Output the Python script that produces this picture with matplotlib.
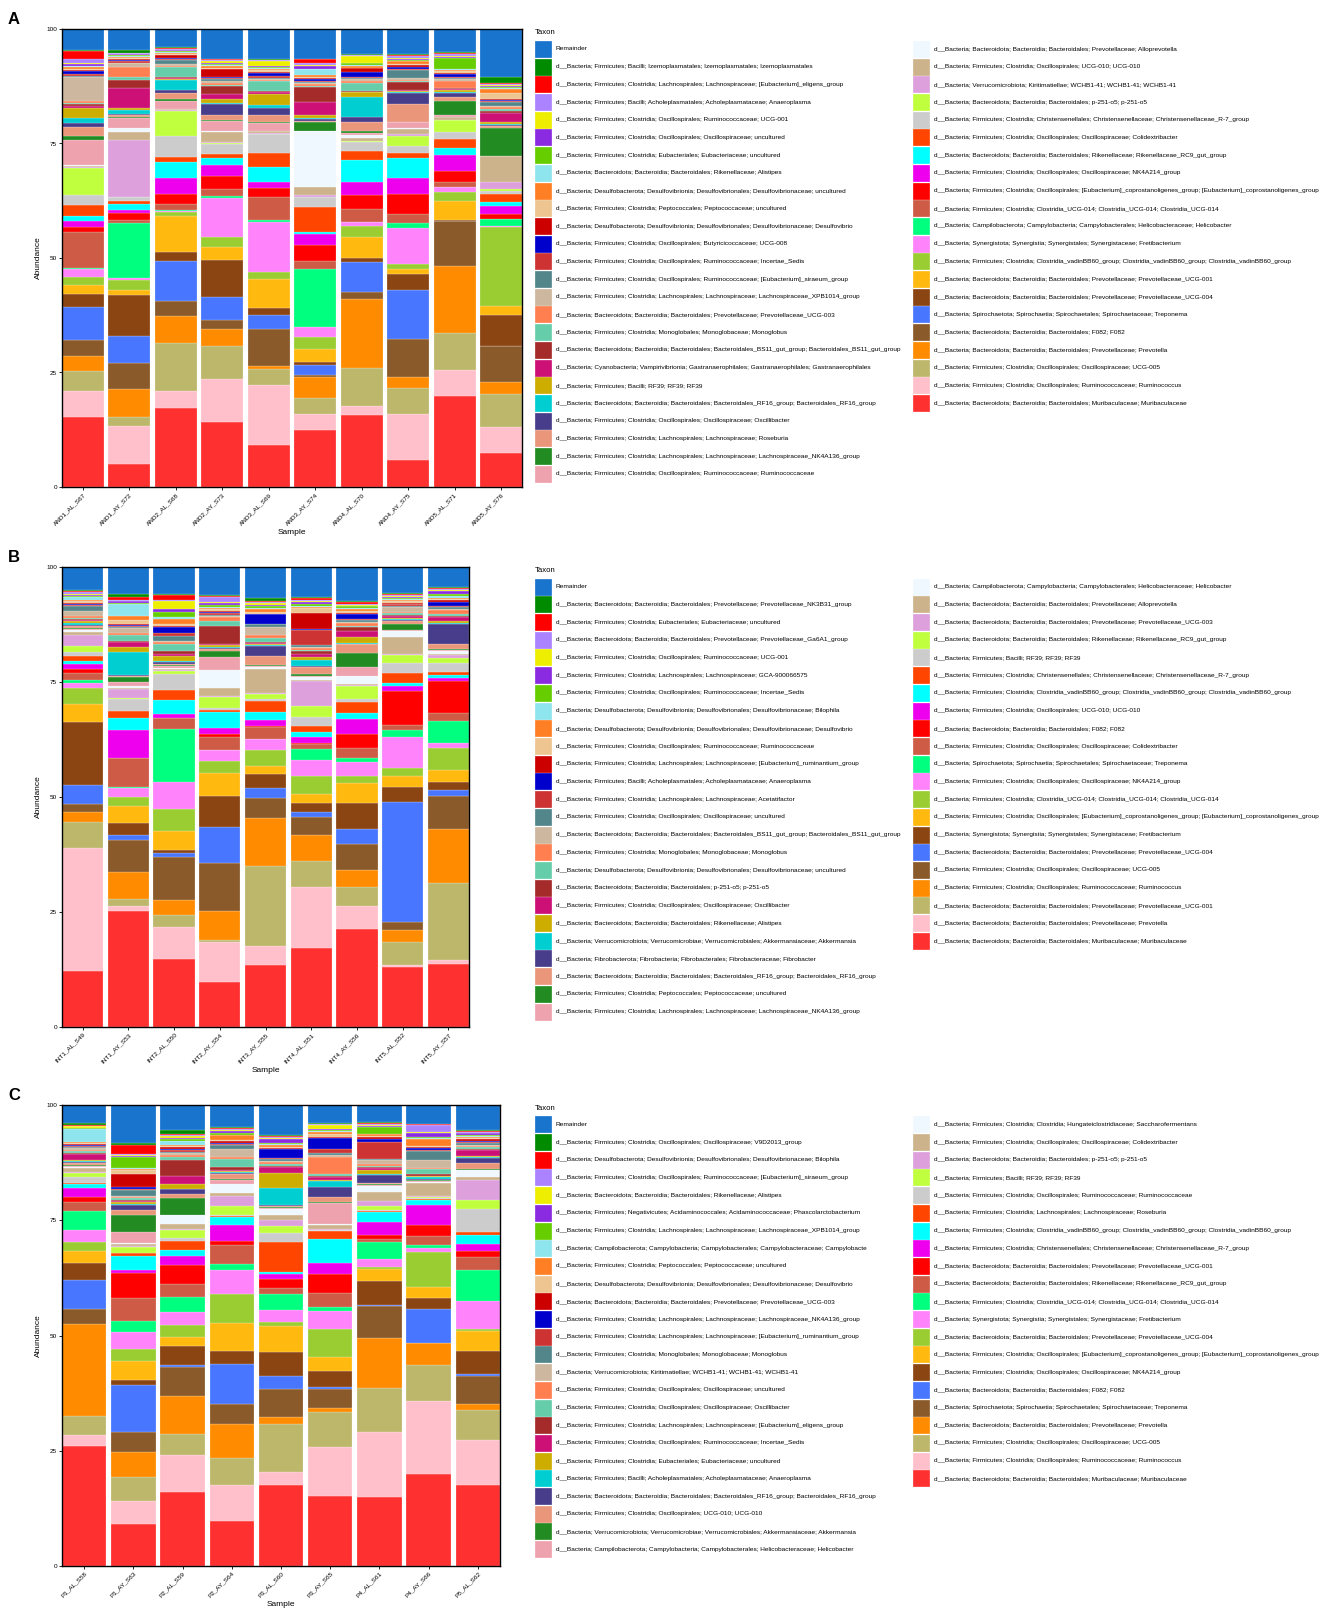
import numpy as np
import matplotlib
matplotlib.use("Agg")
import matplotlib.pyplot as plt
from matplotlib.patches import Rectangle

plt.rcParams["font.family"] = ["Liberation Sans", "DejaVu Sans"]

W, H = 1325, 1617

# colours by legend position (shared by the three panels)
PALETTE = [
    "#1874CD", "#008B00", "#FF0000", "#AB82FF", "#EEEE00", "#8A2BE2", "#66CD00",
    "#8EE5EE", "#FF7F24", "#EEC591", "#CD0000", "#0000CD", "#CD3333", "#53868B",
    "#CDB79E", "#FF7F50", "#66CDAA", "#A52A2A", "#CD1076", "#CDAD00", "#00CED1",
    "#483D8B", "#E9967A", "#228B22", "#EEA2AD",
    "#F0F8FF", "#CDB38B", "#DDA0DD", "#C0FF3E", "#CCCCCC", "#FF4500", "#00FFFF",
    "#EE00EE", "#FF0000", "#CD5B45", "#00FF7F", "#FF83FA", "#9ACD32", "#FFB90F",
    "#8B4513", "#4876FF", "#8B5A2B", "#FF8C00", "#BDB76B", "#FFC0CB", "#FF3030",
]

TAXA_A = [
    "Remainder",
    "d__Bacteria; Firmicutes; Bacilli; Izemoplasmatales; Izemoplasmatales; Izemoplasmatales",
    "d__Bacteria; Firmicutes; Clostridia; Lachnospirales; Lachnospiraceae; [Eubacterium]_eligens_group",
    "d__Bacteria; Firmicutes; Bacilli; Acholeplasmatales; Acholeplasmataceae; Anaeroplasma",
    "d__Bacteria; Firmicutes; Clostridia; Oscillospirales; Ruminococcaceae; UCG-001",
    "d__Bacteria; Firmicutes; Clostridia; Oscillospirales; Oscillospiraceae; uncultured",
    "d__Bacteria; Firmicutes; Clostridia; Eubacteriales; Eubacteriaceae; uncultured",
    "d__Bacteria; Bacteroidota; Bacteroidia; Bacteroidales; Rikenellaceae; Alistipes",
    "d__Bacteria; Desulfobacterota; Desulfovibrionia; Desulfovibrionales; Desulfovibrionaceae; uncultured",
    "d__Bacteria; Firmicutes; Clostridia; Peptococcales; Peptococcaceae; uncultured",
    "d__Bacteria; Desulfobacterota; Desulfovibrionia; Desulfovibrionales; Desulfovibrionaceae; Desulfovibrio",
    "d__Bacteria; Firmicutes; Clostridia; Oscillospirales; Butyricicoccaceae; UCG-008",
    "d__Bacteria; Firmicutes; Clostridia; Oscillospirales; Ruminococcaceae; Incertae_Sedis",
    "d__Bacteria; Firmicutes; Clostridia; Oscillospirales; Ruminococcaceae; [Eubacterium]_siraeum_group",
    "d__Bacteria; Firmicutes; Clostridia; Lachnospirales; Lachnospiraceae; Lachnospiraceae_XPB1014_group",
    "d__Bacteria; Bacteroidota; Bacteroidia; Bacteroidales; Prevotellaceae; Prevotellaceae_UCG-003",
    "d__Bacteria; Firmicutes; Clostridia; Monoglobales; Monoglobaceae; Monoglobus",
    "d__Bacteria; Bacteroidota; Bacteroidia; Bacteroidales; Bacteroidales_BS11_gut_group; Bacteroidales_BS11_gut_group",
    "d__Bacteria; Cyanobacteria; Vampirivibrionia; Gastranaerophilales; Gastranaerophilales; Gastranaerophilales",
    "d__Bacteria; Firmicutes; Bacilli; RF39; RF39; RF39",
    "d__Bacteria; Bacteroidota; Bacteroidia; Bacteroidales; Bacteroidales_RF16_group; Bacteroidales_RF16_group",
    "d__Bacteria; Firmicutes; Clostridia; Oscillospirales; Oscillospiraceae; Oscillibacter",
    "d__Bacteria; Firmicutes; Clostridia; Lachnospirales; Lachnospiraceae; Roseburia",
    "d__Bacteria; Firmicutes; Clostridia; Lachnospirales; Lachnospiraceae; Lachnospiraceae_NK4A136_group",
    "d__Bacteria; Firmicutes; Clostridia; Oscillospirales; Ruminococcaceae; Ruminococcaceae",
    "d__Bacteria; Bacteroidota; Bacteroidia; Bacteroidales; Prevotellaceae; Alloprevotella",
    "d__Bacteria; Firmicutes; Clostridia; Oscillospirales; UCG-010; UCG-010",
    "d__Bacteria; Verrucomicrobiota; Kiritimatiellae; WCHB1-41; WCHB1-41; WCHB1-41",
    "d__Bacteria; Bacteroidota; Bacteroidia; Bacteroidales; p-251-o5; p-251-o5",
    "d__Bacteria; Firmicutes; Clostridia; Christensenellales; Christensenellaceae; Christensenellaceae_R-7_group",
    "d__Bacteria; Firmicutes; Clostridia; Oscillospirales; Oscillospiraceae; Colidextribacter",
    "d__Bacteria; Bacteroidota; Bacteroidia; Bacteroidales; Rikenellaceae; Rikenellaceae_RC9_gut_group",
    "d__Bacteria; Firmicutes; Clostridia; Oscillospirales; Oscillospiraceae; NK4A214_group",
    "d__Bacteria; Firmicutes; Clostridia; Oscillospirales; [Eubacterium]_coprostanoligenes_group; [Eubacterium]_coprostanoligenes_group",
    "d__Bacteria; Firmicutes; Clostridia; Clostridia_UCG-014; Clostridia_UCG-014; Clostridia_UCG-014",
    "d__Bacteria; Campilobacterota; Campylobacteria; Campylobacterales; Helicobacteraceae; Helicobacter",
    "d__Bacteria; Synergistota; Synergistia; Synergistales; Synergistaceae; Fretibacterium",
    "d__Bacteria; Firmicutes; Clostridia; Clostridia_vadinBB60_group; Clostridia_vadinBB60_group; Clostridia_vadinBB60_group",
    "d__Bacteria; Bacteroidota; Bacteroidia; Bacteroidales; Prevotellaceae; Prevotellaceae_UCG-001",
    "d__Bacteria; Bacteroidota; Bacteroidia; Bacteroidales; Prevotellaceae; Prevotellaceae_UCG-004",
    "d__Bacteria; Spirochaetota; Spirochaetia; Spirochaetales; Spirochaetaceae; Treponema",
    "d__Bacteria; Bacteroidota; Bacteroidia; Bacteroidales; F082; F082",
    "d__Bacteria; Bacteroidota; Bacteroidia; Bacteroidales; Prevotellaceae; Prevotella",
    "d__Bacteria; Firmicutes; Clostridia; Oscillospirales; Oscillospiraceae; UCG-005",
    "d__Bacteria; Firmicutes; Clostridia; Oscillospirales; Ruminococcaceae; Ruminococcus",
    "d__Bacteria; Bacteroidota; Bacteroidia; Bacteroidales; Muribaculaceae; Muribaculaceae",
]

TAXA_B = [
    "Remainder",
    "d__Bacteria; Bacteroidota; Bacteroidia; Bacteroidales; Prevotellaceae; Prevotellaceae_NK3B31_group",
    "d__Bacteria; Firmicutes; Clostridia; Eubacteriales; Eubacteriaceae; uncultured",
    "d__Bacteria; Bacteroidota; Bacteroidia; Bacteroidales; Prevotellaceae; Prevotellaceae_Ga6A1_group",
    "d__Bacteria; Firmicutes; Clostridia; Oscillospirales; Ruminococcaceae; UCG-001",
    "d__Bacteria; Firmicutes; Clostridia; Lachnospirales; Lachnospiraceae; GCA-900066575",
    "d__Bacteria; Firmicutes; Clostridia; Oscillospirales; Ruminococcaceae; Incertae_Sedis",
    "d__Bacteria; Desulfobacterota; Desulfovibrionia; Desulfovibrionales; Desulfovibrionaceae; Bilophila",
    "d__Bacteria; Desulfobacterota; Desulfovibrionia; Desulfovibrionales; Desulfovibrionaceae; Desulfovibrio",
    "d__Bacteria; Firmicutes; Clostridia; Oscillospirales; Ruminococcaceae; Ruminococcaceae",
    "d__Bacteria; Firmicutes; Clostridia; Lachnospirales; Lachnospiraceae; [Eubacterium]_ruminantium_group",
    "d__Bacteria; Firmicutes; Bacilli; Acholeplasmatales; Acholeplasmataceae; Anaeroplasma",
    "d__Bacteria; Firmicutes; Clostridia; Lachnospirales; Lachnospiraceae; Acetatifactor",
    "d__Bacteria; Firmicutes; Clostridia; Oscillospirales; Oscillospiraceae; uncultured",
    "d__Bacteria; Bacteroidota; Bacteroidia; Bacteroidales; Bacteroidales_BS11_gut_group; Bacteroidales_BS11_gut_group",
    "d__Bacteria; Firmicutes; Clostridia; Monoglobales; Monoglobaceae; Monoglobus",
    "d__Bacteria; Desulfobacterota; Desulfovibrionia; Desulfovibrionales; Desulfovibrionaceae; uncultured",
    "d__Bacteria; Bacteroidota; Bacteroidia; Bacteroidales; p-251-o5; p-251-o5",
    "d__Bacteria; Firmicutes; Clostridia; Oscillospirales; Oscillospiraceae; Oscillibacter",
    "d__Bacteria; Bacteroidota; Bacteroidia; Bacteroidales; Rikenellaceae; Alistipes",
    "d__Bacteria; Verrucomicrobiota; Verrucomicrobiae; Verrucomicrobiales; Akkermansiaceae; Akkermansia",
    "d__Bacteria; Fibrobacterota; Fibrobacteria; Fibrobacterales; Fibrobacteraceae; Fibrobacter",
    "d__Bacteria; Bacteroidota; Bacteroidia; Bacteroidales; Bacteroidales_RF16_group; Bacteroidales_RF16_group",
    "d__Bacteria; Firmicutes; Clostridia; Peptococcales; Peptococcaceae; uncultured",
    "d__Bacteria; Firmicutes; Clostridia; Lachnospirales; Lachnospiraceae; Lachnospiraceae_NK4A136_group",
    "d__Bacteria; Campilobacterota; Campylobacteria; Campylobacterales; Helicobacteraceae; Helicobacter",
    "d__Bacteria; Bacteroidota; Bacteroidia; Bacteroidales; Prevotellaceae; Alloprevotella",
    "d__Bacteria; Bacteroidota; Bacteroidia; Bacteroidales; Prevotellaceae; Prevotellaceae_UCG-003",
    "d__Bacteria; Bacteroidota; Bacteroidia; Bacteroidales; Rikenellaceae; Rikenellaceae_RC9_gut_group",
    "d__Bacteria; Firmicutes; Bacilli; RF39; RF39; RF39",
    "d__Bacteria; Firmicutes; Clostridia; Christensenellales; Christensenellaceae; Christensenellaceae_R-7_group",
    "d__Bacteria; Firmicutes; Clostridia; Clostridia_vadinBB60_group; Clostridia_vadinBB60_group; Clostridia_vadinBB60_group",
    "d__Bacteria; Firmicutes; Clostridia; Oscillospirales; UCG-010; UCG-010",
    "d__Bacteria; Bacteroidota; Bacteroidia; Bacteroidales; F082; F082",
    "d__Bacteria; Firmicutes; Clostridia; Oscillospirales; Oscillospiraceae; Colidextribacter",
    "d__Bacteria; Spirochaetota; Spirochaetia; Spirochaetales; Spirochaetaceae; Treponema",
    "d__Bacteria; Firmicutes; Clostridia; Oscillospirales; Oscillospiraceae; NK4A214_group",
    "d__Bacteria; Firmicutes; Clostridia; Clostridia_UCG-014; Clostridia_UCG-014; Clostridia_UCG-014",
    "d__Bacteria; Firmicutes; Clostridia; Oscillospirales; [Eubacterium]_coprostanoligenes_group; [Eubacterium]_coprostanoligenes_group",
    "d__Bacteria; Synergistota; Synergistia; Synergistales; Synergistaceae; Fretibacterium",
    "d__Bacteria; Bacteroidota; Bacteroidia; Bacteroidales; Prevotellaceae; Prevotellaceae_UCG-004",
    "d__Bacteria; Firmicutes; Clostridia; Oscillospirales; Oscillospiraceae; UCG-005",
    "d__Bacteria; Firmicutes; Clostridia; Oscillospirales; Ruminococcaceae; Ruminococcus",
    "d__Bacteria; Bacteroidota; Bacteroidia; Bacteroidales; Prevotellaceae; Prevotellaceae_UCG-001",
    "d__Bacteria; Bacteroidota; Bacteroidia; Bacteroidales; Prevotellaceae; Prevotella",
    "d__Bacteria; Bacteroidota; Bacteroidia; Bacteroidales; Muribaculaceae; Muribaculaceae",
]

TAXA_C = [
    "Remainder",
    "d__Bacteria; Firmicutes; Clostridia; Oscillospirales; Oscillospiraceae; V9D2013_group",
    "d__Bacteria; Desulfobacterota; Desulfovibrionia; Desulfovibrionales; Desulfovibrionaceae; Bilophila",
    "d__Bacteria; Firmicutes; Clostridia; Oscillospirales; Ruminococcaceae; [Eubacterium]_siraeum_group",
    "d__Bacteria; Bacteroidota; Bacteroidia; Bacteroidales; Rikenellaceae; Alistipes",
    "d__Bacteria; Firmicutes; Negativicutes; Acidaminococcales; Acidaminococcaceae; Phascolarctobacterium",
    "d__Bacteria; Firmicutes; Clostridia; Lachnospirales; Lachnospiraceae; Lachnospiraceae_XPB1014_group",
    "d__Bacteria; Campilobacterota; Campylobacteria; Campylobacterales; Campylobacteraceae; Campylobacte",
    "d__Bacteria; Firmicutes; Clostridia; Peptococcales; Peptococcaceae; uncultured",
    "d__Bacteria; Desulfobacterota; Desulfovibrionia; Desulfovibrionales; Desulfovibrionaceae; Desulfovibrio",
    "d__Bacteria; Bacteroidota; Bacteroidia; Bacteroidales; Prevotellaceae; Prevotellaceae_UCG-003",
    "d__Bacteria; Firmicutes; Clostridia; Lachnospirales; Lachnospiraceae; Lachnospiraceae_NK4A136_group",
    "d__Bacteria; Firmicutes; Clostridia; Lachnospirales; Lachnospiraceae; [Eubacterium]_ruminantium_group",
    "d__Bacteria; Firmicutes; Clostridia; Monoglobales; Monoglobaceae; Monoglobus",
    "d__Bacteria; Verrucomicrobiota; Kiritimatiellae; WCHB1-41; WCHB1-41; WCHB1-41",
    "d__Bacteria; Firmicutes; Clostridia; Oscillospirales; Oscillospiraceae; uncultured",
    "d__Bacteria; Firmicutes; Clostridia; Oscillospirales; Oscillospiraceae; Oscillibacter",
    "d__Bacteria; Firmicutes; Clostridia; Lachnospirales; Lachnospiraceae; [Eubacterium]_eligens_group",
    "d__Bacteria; Firmicutes; Clostridia; Oscillospirales; Ruminococcaceae; Incertae_Sedis",
    "d__Bacteria; Firmicutes; Clostridia; Eubacteriales; Eubacteriaceae; uncultured",
    "d__Bacteria; Firmicutes; Bacilli; Acholeplasmatales; Acholeplasmataceae; Anaeroplasma",
    "d__Bacteria; Bacteroidota; Bacteroidia; Bacteroidales; Bacteroidales_RF16_group; Bacteroidales_RF16_group",
    "d__Bacteria; Firmicutes; Clostridia; Oscillospirales; UCG-010; UCG-010",
    "d__Bacteria; Verrucomicrobiota; Verrucomicrobiae; Verrucomicrobiales; Akkermansiaceae; Akkermansia",
    "d__Bacteria; Campilobacterota; Campylobacteria; Campylobacterales; Helicobacteraceae; Helicobacter",
    "d__Bacteria; Firmicutes; Clostridia; Clostridia; Hungateiclostridiaceae; Saccharofermentans",
    "d__Bacteria; Firmicutes; Clostridia; Oscillospirales; Oscillospiraceae; Colidextribacter",
    "d__Bacteria; Bacteroidota; Bacteroidia; Bacteroidales; p-251-o5; p-251-o5",
    "d__Bacteria; Firmicutes; Bacilli; RF39; RF39; RF39",
    "d__Bacteria; Firmicutes; Clostridia; Oscillospirales; Ruminococcaceae; Ruminococcaceae",
    "d__Bacteria; Firmicutes; Clostridia; Lachnospirales; Lachnospiraceae; Roseburia",
    "d__Bacteria; Firmicutes; Clostridia; Clostridia_vadinBB60_group; Clostridia_vadinBB60_group; Clostridia_vadinBB60_group",
    "d__Bacteria; Firmicutes; Clostridia; Christensenellales; Christensenellaceae; Christensenellaceae_R-7_group",
    "d__Bacteria; Bacteroidota; Bacteroidia; Bacteroidales; Prevotellaceae; Prevotellaceae_UCG-001",
    "d__Bacteria; Bacteroidota; Bacteroidia; Bacteroidales; Rikenellaceae; Rikenellaceae_RC9_gut_group",
    "d__Bacteria; Firmicutes; Clostridia; Clostridia_UCG-014; Clostridia_UCG-014; Clostridia_UCG-014",
    "d__Bacteria; Synergistota; Synergistia; Synergistales; Synergistaceae; Fretibacterium",
    "d__Bacteria; Bacteroidota; Bacteroidia; Bacteroidales; Prevotellaceae; Prevotellaceae_UCG-004",
    "d__Bacteria; Firmicutes; Clostridia; Oscillospirales; [Eubacterium]_coprostanoligenes_group; [Eubacterium]_coprostanoligenes_group",
    "d__Bacteria; Firmicutes; Clostridia; Oscillospirales; Oscillospiraceae; NK4A214_group",
    "d__Bacteria; Bacteroidota; Bacteroidia; Bacteroidales; F082; F082",
    "d__Bacteria; Spirochaetota; Spirochaetia; Spirochaetales; Spirochaetaceae; Treponema",
    "d__Bacteria; Bacteroidota; Bacteroidia; Bacteroidales; Prevotellaceae; Prevotella",
    "d__Bacteria; Firmicutes; Clostridia; Oscillospirales; Oscillospiraceae; UCG-005",
    "d__Bacteria; Firmicutes; Clostridia; Oscillospirales; Ruminococcaceae; Ruminococcus",
    "d__Bacteria; Bacteroidota; Bacteroidia; Bacteroidales; Muribaculaceae; Muribaculaceae",
]

# Abundances per sample, listed from the bottom of the stack (last taxon) up to Remainder
SAMPLES_A = ["AND1_AL_S67", "AND1_AY_S72", "AND2_AL_S68", "AND2_AY_S73", "AND3_AL_S69",
             "AND3_AY_S74", "AND4_AL_S70", "AND4_AY_S75", "AND5_AL_S71", "AND5_AY_S76"]
A_S67 = [15.6, 5.7, 4.3, 3.4, 3.5, 7.3, 2.9, 2.1, 1.8, 1.6, 0.3, 7.9, 1.2, 1.2, 1.2, 2.4, 2.2, 6.1, 0.2, 0.2, 0.1, 5.7, 0.9,
         1.8, 1.0, 1.2, 2.2, 0.3, 0.4, 0.4, 0.4, 5.2, 0.4, 0.4, 0.5, 0.3, 0.3, 0.3, 0.2, 0.2, 0.4, 0.1, 0.9, 1.8, 0.2, 4.7]
A_S72 = [5.1, 8.3, 2.0, 6.3, 5.7, 6.0, 8.9, 1.1, 2.3, 0.4, 12.2, 0.6, 1.5, 0.7, 1.2, 0.7, 0.9, 0.1, 12.5, 1.7, 0.9, 2.3, 0.2,
         0.4, 0.2, 0.9, 0.5, 4.4, 1.8, 0.6, 2.3, 0.7, 0.2, 0.3, 0.2, 0.2, 0.3, 0.3, 0.2, 0.1, 0.2, 0.1, 0.1, 0.2, 0.5, 4.7]
A_S68 = [17.8, 3.6, 10.9, 6.0, 3.4, 9.0, 2.0, 7.9, 1.1, 0.2, 0.1, 1.5, 2.2, 3.5, 3.6, 1.2, 4.6, 5.6, 0.2, 0.3, 0.0, 1.8, 0.5,
         1.3, 0.7, 2.2, 0.3, 0.2, 0.2, 2.2, 0.3, 0.3, 0.9, 0.2, 0.4, 0.5, 0.3, 0.2, 0.2, 0.2, 0.2, 0.2, 0.2, 0.2, 0.1, 4.1]
A_S73 = [14.3, 9.5, 7.1, 3.9, 2.0, 4.9, 8.2, 2.9, 2.1, 8.6, 0.4, 1.7, 2.7, 2.4, 1.7, 0.9, 2.2, 0.2, 0.2, 2.2, 0.1, 2.2, 0.2,
         1.1, 2.5, 0.3, 0.9, 0.9, 1.8, 0.3, 0.5, 0.4, 0.3, 0.3, 0.3, 1.8, 0.2, 0.3, 0.2, 0.2, 0.3, 0.4, 0.2, 0.2, 0.2, 6.5]
A_S69 = [9.2, 13.3, 3.6, 0.7, 8.2, 2.9, 1.7, 6.3, 1.6, 11.1, 0.4, 5.1, 2.0, 1.3, 3.4, 3.1, 4.0, 0.2, 0.2, 0.3, 0.0, 1.8, 0.2,
         1.5, 1.7, 0.5, 2.5, 0.4, 0.2, 2.2, 0.3, 0.3, 0.2, 0.4, 0.6, 0.4, 0.3, 0.2, 0.3, 0.2, 0.2, 1.2, 0.1, 0.1, 0.1, 6.7]
A_S74 = [12.5, 3.4, 3.5, 4.6, 0.5, 2.2, 0.6, 2.9, 2.5, 2.2, 12.7, 1.7, 3.6, 2.3, 0.4, 5.5, 2.2, 0.1, 0.3, 1.8, 12.2, 0.1, 2.0,
         0.2, 0.3, 0.3, 0.7, 2.7, 3.3, 0.3, 0.3, 0.3, 0.3, 0.2, 0.3, 0.3, 0.3, 0.3, 1.3, 0.1, 0.7, 0.1, 0.4, 0.9, 0.1, 6.5]
A_S70 = [15.8, 2.0, 8.4, 15.3, 1.6, 6.6, 0.7, 4.7, 2.4, 0.9, 0.1, 2.9, 2.9, 2.9, 4.9, 2.0, 2.0, 0.1, 0.2, 0.5, 0.7, 0.4, 0.4,
         2.0, 1.3, 4.4, 0.9, 0.2, 0.2, 1.8, 0.3, 0.4, 0.3, 0.3, 1.1, 0.7, 0.2, 0.3, 0.2, 0.4, 0.2, 1.5, 0.1, 0.1, 0.1, 5.6]
A_S75 = [6.0, 10.0, 5.7, 2.4, 8.2, 10.8, 3.6, 0.9, 1.1, 8.0, 1.1, 2.0, 4.4, 3.3, 4.4, 1.1, 1.5, 2.3, 0.4, 1.2, 0.1, 1.3, 0.1,
         3.9, 2.3, 0.4, 0.2, 0.2, 1.6, 0.4, 0.2, 0.3, 1.8, 0.3, 0.3, 0.5, 0.3, 0.5, 0.2, 0.2, 0.2, 0.2, 0.4, 0.2, 0.2, 5.5]
A_S71 = [20.2, 5.7, 8.2, 14.9, 10.0, 0.0, 0.2, 4.2, 2.2, 1.0, 0.1, 1.1, 2.4, 3.5, 1.5, 2.1, 1.5, 2.6, 0.2, 0.5, 0.1, 0.3, 3.2,
         0.8, 0.9, 0.4, 0.3, 0.2, 0.2, 0.2, 1.5, 0.4, 0.2, 0.3, 0.5, 0.4, 0.3, 0.3, 0.2, 2.5, 0.2, 0.2, 0.5, 0.2, 0.1, 5.2]
A_S76 = [7.6, 5.7, 7.3, 2.8, 8.0, 0.0, 6.7, 2.0, 17.7, 0.1, 1.5, 0.2, 1.1, 1.8, 0.7, 1.8, 0.7, 0.5, 1.5, 5.7, 0.1, 0.1, 6.2,
         0.3, 0.2, 0.3, 0.5, 2.0, 0.4, 0.4, 0.4, 0.4, 0.7, 0.3, 0.3, 0.2, 1.2, 1.0, 0.3, 0.1, 0.3, 0.1, 0.3, 0.1, 1.5, 10.6]

SAMPLES_B = ["INT1_AL_S49", "INT1_AY_S53", "INT2_AL_S50", "INT2_AY_S54", "INT3_AY_S55",
             "INT4_AL_S51", "INT4_AY_S56", "INT5_AL_S52", "INT5_AY_S57"]
B_S49 = [12.4, 27.1, 5.8, 2.2, 1.8, 4.2, 13.9, 3.8, 3.5, 1.3, 0.5, 1.6, 0.9, 1.1, 0.7, 1.1, 0.9, 1.3, 2.3, 0.7, 0.6, 0.2, 0.2,
         0.3, 0.2, 0.5, 0.4, 0.2, 0.3, 0.3, 0.4, 1.1, 1.1, 0.3, 0.2, 0.2, 0.3, 0.3, 0.7, 0.3, 0.2, 0.2, 0.4, 0.2, 0.2, 5.1]
B_S53 = [25.3, 1.1, 1.4, 5.9, 7.0, 1.1, 2.5, 3.7, 2.1, 2.0, 0.1, 6.3, 0.1, 6.0, 2.7, 1.4, 2.7, 0.2, 2.0, 0.2, 0.5, 0.7, 1.1,
         0.3, 0.1, 5.2, 0.9, 1.1, 0.2, 1.4, 0.4, 1.1, 0.3, 0.2, 0.2, 0.2, 0.9, 0.8, 2.7, 0.2, 0.3, 0.2, 0.2, 0.6, 0.6, 5.9]
B_S50 = [14.8, 7.1, 2.5, 3.4, 9.4, 0.9, 0.7, 4.1, 4.7, 5.9, 11.7, 2.3, 0.1, 0.9, 3.1, 2.2, 3.4, 0.7, 0.2, 0.2, 0.3, 0.3, 0.2,
         0.3, 0.4, 0.3, 1.1, 0.4, 0.7, 1.4, 0.4, 0.4, 1.1, 0.6, 1.3, 0.3, 0.4, 1.1, 0.3, 1.1, 0.7, 1.8, 0.2, 1.1, 0.3, 5.8]
B_S54 = [9.9, 9.0, 0.4, 6.5, 10.6, 8.0, 6.9, 5.1, 2.7, 2.4, 0.1, 3.0, 0.5, 1.3, 3.6, 0.6, 0.3, 2.5, 0.2, 1.7, 4.1, 2.9, 1.4,
         0.4, 0.2, 0.2, 0.4, 0.3, 3.9, 1.3, 0.7, 0.3, 0.3, 0.3, 0.3, 0.3, 0.3, 0.3, 0.3, 0.3, 0.5, 0.2, 1.1, 0.3, 0.2, 6.2]
B_S55 = [13.7, 4.0, 17.7, 10.5, 4.3, 2.2, 3.1, 1.8, 3.5, 2.3, 0.1, 2.5, 0.4, 1.2, 1.8, 2.5, 0.4, 1.0, 0.2, 5.3, 0.4, 0.2, 0.4,
         1.8, 2.2, 0.3, 0.2, 0.3, 0.2, 0.9, 0.6, 1.8, 0.5, 0.2, 2.0, 0.2, 0.3, 0.7, 0.2, 0.4, 0.3, 0.5, 0.2, 0.2, 0.5, 6.9]
B_S51 = [17.4, 13.3, 5.8, 5.6, 4.0, 1.2, 2.0, 1.8, 4.0, 3.6, 2.3, 1.3, 0.2, 1.3, 1.0, 1.4, 2.0, 2.3, 5.6, 0.2, 0.6, 0.2, 0.4,
         1.7, 0.2, 1.2, 0.7, 0.7, 0.6, 0.3, 0.3, 0.4, 0.3, 3.3, 0.2, 3.6, 1.1, 0.3, 0.2, 0.3, 0.5, 0.2, 0.2, 0.4, 0.2, 6.7]
B_S56 = [21.9, 5.1, 4.2, 3.8, 5.8, 3.3, 5.9, 4.4, 1.6, 3.1, 0.9, 2.3, 3.1, 3.3, 1.4, 2.5, 0.7, 2.9, 0.2, 0.2, 1.8, 2.0, 3.0,
         2.0, 0.2, 0.2, 1.3, 1.4, 0.7, 0.3, 0.7, 0.3, 0.3, 0.3, 1.1, 0.3, 0.3, 0.6, 0.2, 0.3, 0.2, 0.2, 0.2, 0.4, 0.2, 7.6]
B_S52 = [13.3, 0.4, 5.1, 2.7, 1.8, 26.6, 3.3, 2.3, 1.8, 7.0, 1.5, 1.0, 7.6, 1.1, 0.7, 2.2, 2.3, 1.7, 0.2, 3.9, 1.2, 0.2, 1.4,
         0.7, 0.2, 0.2, 0.2, 0.4, 0.3, 0.3, 0.3, 1.1, 0.3, 0.3, 0.2, 0.2, 0.3, 0.3, 0.2, 0.2, 0.2, 0.2, 0.3, 0.2, 0.2, 5.8]
B_S57 = [14.0, 0.9, 17.0, 11.9, 7.2, 1.4, 1.8, 2.7, 4.8, 1.1, 4.9, 1.7, 7.1, 0.7, 0.7, 0.5, 2.0, 1.1, 0.7, 0.3, 0.6, 0.3, 0.2,
         1.1, 4.5, 0.2, 0.3, 0.9, 0.3, 0.3, 0.9, 0.3, 0.4, 0.3, 0.9, 0.3, 0.3, 0.3, 0.3, 0.5, 0.6, 0.3, 0.2, 0.2, 0.2, 4.5]

SAMPLES_C = ["P1_AL_S58", "P1_AY_S63", "P2_AL_S59", "P2_AY_S64", "P3_AL_S60",
             "P3_AY_S65", "P4_AL_S61", "P4_AY_S66", "P5_AL_S62"]
C_S58 = [26.6, 2.5, 4.1, 20.4, 3.4, 6.4, 3.7, 2.7, 2.1, 2.5, 4.4, 1.8, 1.1, 2.1, 0.9, 0.2, 1.3, 0.9, 0.2, 0.9, 0.2, 0.3, 0.2,
         0.5, 0.2, 0.2, 0.2, 1.3, 0.3, 0.4, 0.3, 0.3, 0.3, 0.2, 0.3, 0.2, 0.2, 0.2, 2.9, 0.1, 0.1, 0.4, 0.1, 0.1, 0.4, 4.1]
C_S63 = [9.4, 5.0, 5.4, 5.5, 4.4, 10.5, 1.1, 4.1, 2.7, 3.7, 2.6, 5.0, 5.5, 0.7, 3.2, 0.5, 0.2, 1.3, 0.2, 0.3, 0.2, 2.5, 3.8,
         1.2, 1.1, 0.2, 0.3, 0.3, 0.3, 0.3, 0.3, 0.3, 1.2, 0.3, 0.4, 2.9, 0.9, 0.3, 0.2, 2.4, 0.2, 0.2, 0.2, 2.0, 0.5, 8.4]
C_S59 = [16.2, 8.2, 4.5, 8.4, 6.4, 0.4, 4.1, 1.9, 2.6, 3.0, 3.2, 2.9, 4.1, 2.1, 1.3, 1.8, 0.7, 1.8, 0.2, 1.1, 1.9, 0.2, 3.7,
         0.9, 0.9, 0.2, 0.9, 1.8, 3.6, 0.6, 0.5, 0.3, 0.3, 0.4, 0.3, 0.4, 0.2, 0.3, 0.9, 0.3, 0.3, 0.4, 0.2, 0.2, 0.9, 5.5]
C_S64 = [9.8, 8.0, 5.9, 7.6, 4.4, 8.7, 2.9, 6.2, 6.3, 5.2, 1.4, 4.1, 0.9, 3.6, 1.7, 0.2, 0.4, 1.9, 2.1, 0.7, 2.0, 0.9, 0.2,
         1.1, 0.2, 0.2, 0.2, 0.2, 0.7, 1.9, 0.3, 1.8, 0.9, 0.3, 0.2, 0.3, 0.3, 1.0, 0.2, 0.3, 0.4, 0.2, 0.3, 0.2, 0.3, 4.8]
C_S60 = [17.9, 2.8, 10.6, 1.6, 6.3, 2.9, 5.1, 5.9, 0.9, 2.6, 3.6, 1.2, 2.0, 1.2, 0.4, 6.6, 2.1, 1.4, 1.3, 1.2, 1.3, 0.2, 0.2,
         0.2, 0.4, 3.6, 3.4, 1.3, 0.3, 0.3, 0.5, 0.3, 0.3, 0.3, 1.9, 0.3, 0.3, 0.3, 0.2, 0.3, 0.9, 0.2, 0.2, 0.2, 0.2, 6.7]
C_S65 = [15.5, 10.7, 7.7, 0.9, 4.3, 0.4, 3.6, 3.0, 6.3, 3.9, 0.9, 3.1, 4.1, 2.5, 5.2, 1.8, 0.2, 0.2, 0.2, 0.9, 0.2, 4.6, 0.2,
         1.1, 2.1, 1.4, 0.2, 0.7, 0.3, 0.3, 3.9, 0.3, 0.5, 0.8, 2.6, 0.2, 0.7, 0.3, 0.2, 0.2, 0.2, 0.9, 0.2, 0.2, 0.2, 3.9]
C_S61 = [15.5, 14.4, 9.9, 11.3, 7.1, 0.3, 5.2, 2.7, 0.6, 1.8, 3.8, 0.7, 0.7, 3.1, 2.1, 0.2, 0.2, 0.9, 1.1, 2.1, 1.4, 0.2, 0.2,
         0.3, 1.8, 0.2, 0.9, 0.3, 0.3, 0.3, 0.3, 0.9, 0.3, 3.9, 0.7, 0.3, 0.3, 0.3, 0.2, 1.4, 0.2, 0.3, 0.2, 0.2, 0.2, 3.9]
C_S66 = [20.3, 16.1, 8.0, 4.9, 0.1, 7.5, 2.4, 2.5, 7.6, 1.0, 0.6, 2.1, 2.4, 4.3, 1.2, 0.2, 0.2, 0.2, 0.2, 2.9, 0.2, 0.2, 0.2,
         0.2, 0.2, 0.3, 0.2, 0.2, 0.3, 1.1, 0.3, 1.8, 2.0, 0.2, 0.4, 0.2, 0.3, 1.5, 0.2, 0.2, 0.9, 0.2, 1.6, 0.2, 0.1, 4.1]
C_S62 = [18.0, 9.9, 6.6, 1.3, 6.2, 0.6, 5.0, 4.4, 0.6, 6.1, 6.8, 2.9, 1.4, 1.6, 1.8, 0.7, 5.1, 2.1, 4.5, 0.6, 1.4, 0.2, 0.2,
         1.3, 1.1, 0.2, 0.2, 1.3, 0.3, 0.3, 0.3, 0.3, 0.3, 0.3, 0.3, 0.3, 0.3, 0.3, 0.2, 0.2, 0.3, 0.2, 0.2, 0.2, 0.2, 5.5]

PANELS = [
    ("A", TAXA_A, SAMPLES_A, [A_S67, A_S72, A_S68, A_S73, A_S69, A_S74, A_S70, A_S75, A_S71, A_S76]),
    ("B", TAXA_B, SAMPLES_B, [B_S49, B_S53, B_S50, B_S54, B_S55, B_S51, B_S56, B_S52, B_S57]),
    ("C", TAXA_C, SAMPLES_C, [C_S58, C_S63, C_S59, C_S64, C_S60, C_S65, C_S61, C_S66, C_S62]),
]

# pixel boxes of the plot areas (left, top, right, bottom) and legend top rows
AX_BOXES = [(62, 29, 522, 487), (62, 567, 469, 1027), (62, 1105, 500, 1566)]
LEGEND_Y0 = [49, 586.7, 1124.3]
ROW_STEP = 17.7

fig = plt.figure(figsize=(W / 100, H / 100), dpi=100)

overlay = fig.add_axes([0, 0, 1, 1])
overlay.set_xlim(0, W)
overlay.set_ylim(H, 0)
overlay.axis("off")

for (letter, taxa, samples, rows), box, ly0 in zip(PANELS, AX_BOXES, LEGEND_Y0):
    l, t, r, b = box
    ax = fig.add_axes([l / W, 1 - b / H, (r - l) / W, (b - t) / H])
    vals = np.array(rows, dtype=float)
    vals = vals / vals.sum(axis=1, keepdims=True) * 100
    n_taxa = len(taxa)
    x = np.arange(len(samples))
    bottom = np.zeros(len(samples))
    for k in range(n_taxa):
        leg_idx = n_taxa - 1 - k
        ax.bar(x, vals[:, k], bottom=bottom, width=0.9, color=PALETTE[leg_idx],
               edgecolor="white", linewidth=0.15)
        bottom += vals[:, k]

    ax.set_xlim(-0.45, len(samples) - 0.55)
    ax.set_ylim(0, 100)
    ax.set_yticks([0, 25, 50, 75, 100])
    ax.set_yticklabels(["0", "25", "50", "75", "100"])
    ax.set_xticks(x)
    ax.set_xticklabels(samples, rotation=45, ha="right", rotation_mode="anchor")
    ax.tick_params(axis="both", labelsize=4.6, length=2, width=0.6, pad=1.5)
    ax.set_ylabel("Abundance", fontsize=6, labelpad=3)
    ax.set_xlabel("Sample", fontsize=6, labelpad=2)
    for sp in ax.spines.values():
        sp.set_linewidth(1.0)
        sp.set_color("black")

    overlay.text(8, t - 10, letter, fontsize=12, fontweight="bold", ha="left", va="center")

    # legend: two columns, first 25 entries on the left
    overlay.text(535, ly0 - 16, "Taxon", fontsize=5.6, ha="left", va="center")
    for i, name in enumerate(taxa):
        col, row = (0, i) if i < 25 else (1, i - 25)
        sx = 535 if col == 0 else 913
        cy = ly0 + row * ROW_STEP
        overlay.add_patch(Rectangle((sx, cy - 8), 16, 16, facecolor=PALETTE[i],
                                    edgecolor=PALETTE[i], linewidth=0.5))
        overlay.text(sx + 21, cy, name, fontsize=4.65, ha="left", va="center")

fig.savefig("out.png", dpi=100)
